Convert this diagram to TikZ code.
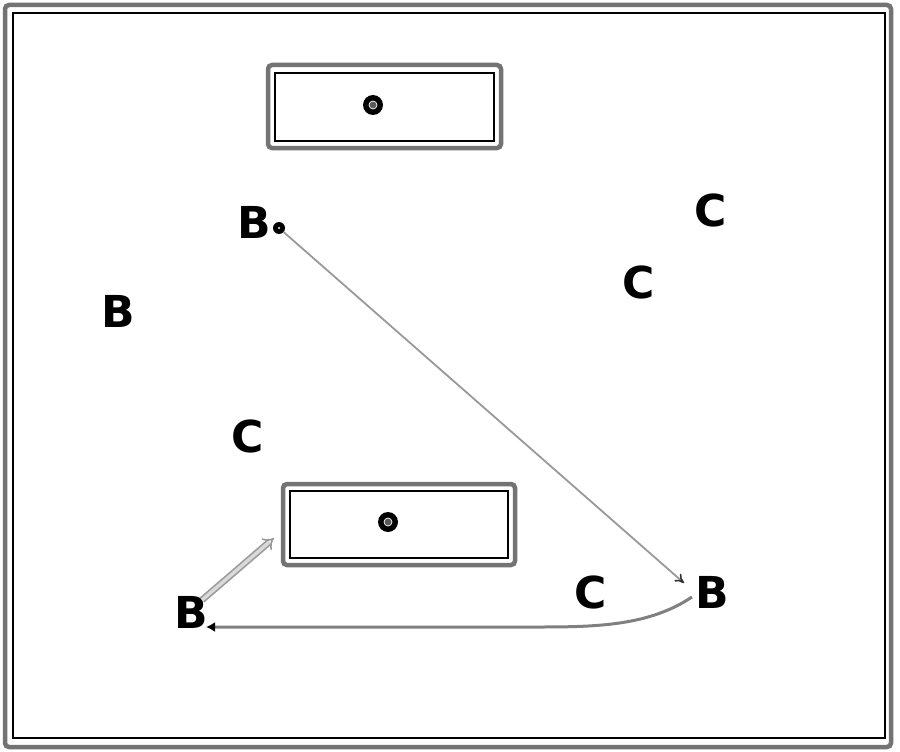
\documentclass[tikz,border=0pt]{standalone}
\usepackage{fontspec}
\setmainfont{DejaVu Sans}
\usetikzlibrary{arrows.meta,arrows}
\begin{document}
\begin{tikzpicture}[x=1pt,y=-1pt,
  lbl/.style={font=\fontsize{44}{48}\selectfont\bfseries, inner sep=0pt, text=black},
  outerline/.style={draw=black!55, line width=4.5pt, rounded corners=4pt},
  innerline/.style={draw=black, line width=1.3pt},
  boxdot/.style={circle, fill=black, minimum size=20pt, inner sep=0pt},
  thinarrow/.style={draw=black!40, line width=1.8pt, -{To[length=9pt,width=10pt,line width=1.6pt,color=black!80]}},
  curvearrow/.style={draw=black!50, line width=3pt, -{Latex[length=9pt,width=10pt,color=black]}},
  dblarrow/.style={draw=black!40, double=black!15, double distance=3.5pt, line width=1.6pt, -Implies}
]
\useasboundingbox (0,0) rectangle (900,752);
\fill[white] (0,0) rectangle (900,752);
% frame
\draw[outerline] (5,5) rectangle (891,747);
\draw[innerline] (13,13) rectangle (885,738);
% top box
\draw[outerline] (268,65) rectangle (501,148);
\draw[innerline] (275,73) rectangle (494,141);
\node[boxdot] (d1) at (373,105) {};
\fill[black!65] (d1.center) circle (4pt);
\draw[white, line width=0.7pt] (d1.center) circle (4pt);
% bottom box
\draw[outerline] (283,484) rectangle (515,565);
\draw[innerline] (290,491) rectangle (508,558);
\node[boxdot] (d2) at (388,522) {};
\fill[black!65] (d2.center) circle (4pt);
\draw[white, line width=0.7pt] (d2.center) circle (4pt);
\coordinate (boxcorner) at (274,538);
% labels
\node[lbl] (b1) at (254,222) {B};
\node[circle, fill=black, minimum size=12pt, inner sep=0pt] (p1) at (279,228) {};
\fill[white] (p1.center) circle (1.2pt);
\node[lbl] (b2) at (118,311) {B};
\node[lbl] (c1) at (711,210) {C};
\node[lbl] (c2) at (639,282) {C};
\node[lbl] (c3) at (248,436) {C};
\node[lbl] (c4) at (591,592) {C};
\node[lbl] (b3) at (712,592) {B};
\node[lbl] (b4) at (191,612) {B};
\coordinate (e1) at (684,583);
\coordinate (s2) at (692,597);
\coordinate (e2) at (206,627);
\coordinate (s3) at (202,600);
% connectors
\draw[thinarrow] (p1) -- (e1);
\draw[curvearrow] (s2) .. controls (650,625) and (600,627) .. (540,627) -- (e2);
\draw[dblarrow] (s3) -- (boxcorner);
\end{tikzpicture}
\end{document}
